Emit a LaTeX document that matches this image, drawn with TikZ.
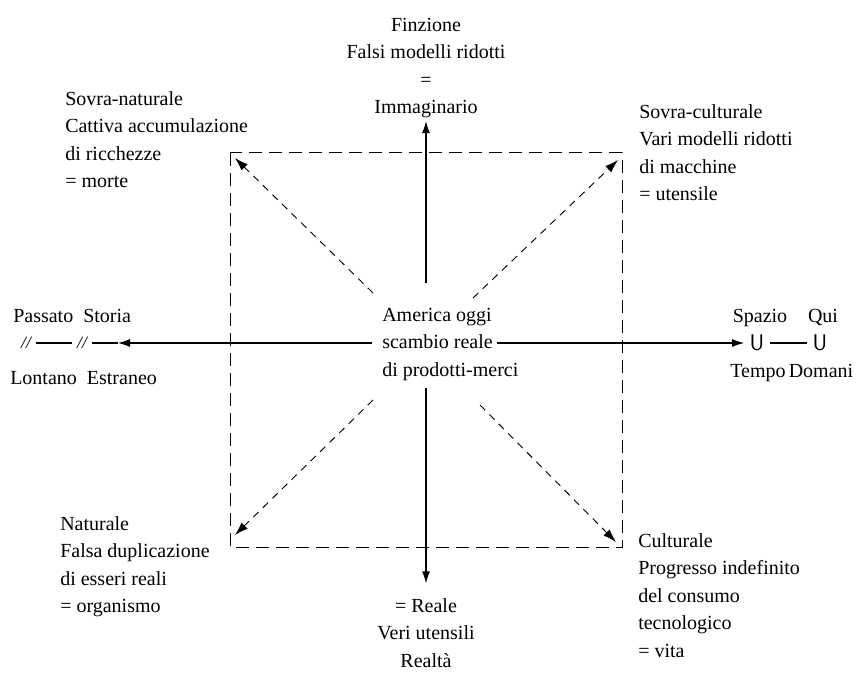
\documentclass[tikz,border=0pt]{standalone}
\usepackage{fontspec}
\setmainfont{Liberation Serif}
\usetikzlibrary{arrows.meta,positioning}

\tikzset{
  txt/.style={inner sep=0pt, font=\fontsize{15}{20.6}\selectfont},
  blockl/.style={txt, align=left, anchor=north west},
  blockc/.style={txt, align=center, anchor=north},
  slash/.style={inner sep=3.5pt, font=\fontsize{13}{15}\selectfont\itshape},
  cupsym/.style={inner sep=4pt, font=\fontsize{17}{20}\selectfont\sffamily},
  axis/.style={line width=0.8pt, -{Latex[length=9pt,width=6pt]}},
  diag/.style={line width=0.7pt, dash pattern=on 5.5pt off 4.5pt, -{Latex[length=10pt,width=6.5pt]}},
}

\begin{document}
\begin{tikzpicture}[x=0.75pt,y=-0.75pt]
\useasboundingbox (0,0) rectangle (860,673);

\coordinate (sqnw) at (230,153);
\coordinate (sqse) at (622,547);
\draw[line width=0.75pt, dash pattern=on 10pt off 5pt] (sqnw) rectangle (sqse);

\node[blockl] (oggi) at (382,308) {America oggi\\scambio reale\\di prodotti-merci};
\node[blockc] (finz) at (426,18) {Finzione\\Falsi modelli ridotti\\=\\Immaginario};
\node[blockc] (reale) at (426,598) {= Reale\\Veri utensili\\Realtà};
\node[blockl] (sovnat) at (65,91) {Sovra-naturale\\Cattiva accumulazione\\di ricchezze\\= morte};
\node[blockl] (sovcult) at (639,104) {Sovra-culturale\\Vari modelli ridotti\\di macchine\\= utensile};
\node[blockl] (nat) at (60,516) {Naturale\\Falsa duplicazione\\di esseri reali\\= organismo};
\node[blockl] (cult) at (638,533) {Culturale\\Progresso indefinito\\del consumo\\tecnologico\\= vita};

\node[slash] (sl1) at (26,343) {//};
\node[slash] (sl2) at (82,343) {//};
\node[txt, anchor=base west] (passato) at (13,323) {Passato\enspace Storia};
\node[txt, anchor=base west] (lontano) at (10,385) {Lontano\enspace Estraneo};

\node[cupsym] (u1) at (757,343) {U};
\node[cupsym] (u2) at (820,343) {U};
\node[txt, anchor=base] (spazio) at (760,323) {Spazio};
\node[txt, anchor=base] (qui) at (823,323) {Qui};
\node[txt, anchor=base] (tempo) at (758,378) {Tempo};
\node[txt, anchor=base] (domani) at (821,378) {Domani};

\coordinate (up0) at (426,283);
\coordinate (dn0) at (426,388);
\coordinate (lt0) at (372,343);
\coordinate (lttip) at (118,343);
\coordinate (rt0) at (497,343);
\draw[axis, shorten >=2pt] (up0) -- (finz.south);
\draw[axis, shorten >=11pt] (dn0) -- (reale.north);
\draw[axis] (lt0) -- (lttip);
\draw[line width=0.8pt] (lttip) -- (sl2.east);
\draw[line width=0.8pt] (sl1.east) -- (sl2.west);
\draw[axis] (rt0) -- (u1.west);
\draw[line width=0.8pt] (u1.east) -- (u2.west);

\coordinate (tl0) at (373,293);
\coordinate (tr0) at (473,298);
\coordinate (bl0) at (373,400);
\coordinate (br0) at (480,405);
\coordinate (tltip) at (235,158);
\coordinate (trtip) at (618,160);
\coordinate (bltip) at (235,535);
\coordinate (brtip) at (616,542);
\draw[diag] (tl0) -- (tltip);
\draw[diag] (tr0) -- (trtip);
\draw[diag] (bl0) -- (bltip);
\draw[diag] (br0) -- (brtip);
\end{tikzpicture}
\end{document}
